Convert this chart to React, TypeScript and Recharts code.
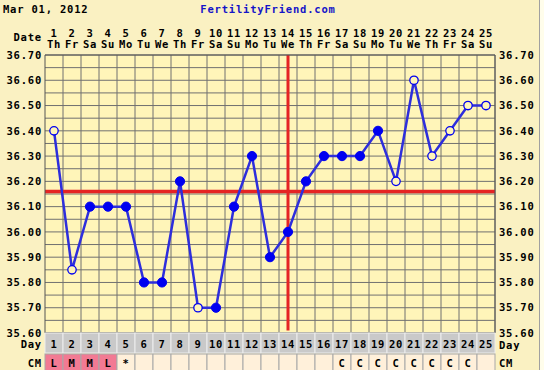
import React from "react";
import {
  ComposedChart,
  Line,
  XAxis,
  YAxis,
  CartesianGrid,
  ReferenceLine,
} from "recharts";

const DAYS = [1, 2, 3, 4, 5, 6, 7, 8, 9, 10, 11, 12, 13, 14, 15, 16, 17, 18, 19, 20, 21, 22, 23, 24, 25];
const WEEKDAYS = ["Th", "Fr", "Sa", "Su", "Mo", "Tu", "We", "Th", "Fr", "Sa", "Su", "Mo", "Tu", "We", "Th", "Fr", "Sa", "Su", "Mo", "Tu", "We", "Th", "Fr", "Sa", "Su"];
const TEMPS = [36.4, 35.85, 36.1, 36.1, 36.1, 35.8, 35.8, 36.2, 35.7, 35.7, 36.1, 36.3, 35.9, 36.0, 36.2, 36.3, 36.3, 36.3, 36.4, 36.2, 36.6, 36.3, 36.4, 36.5, 36.5];
// open circle = temp discarded / not used
const OPEN = [true, true, false, false, false, false, false, false, true, false, false, false, false, false, false, false, false, false, false, true, true, true, true, true, true];
const CM = ["L", "M", "M", "L", "*", "", "", "", "", "", "", "", "", "", "", "", "C", "C", "C", "C", "C", "C", "C", "C", ""];
const MENSES = [true, true, true, true, false, false, false, false, false, false, false, false, false, false, false, false, false, false, false, false, false, false, false, false, false];
const Y_TICKS = [35.6, 35.65, 35.7, 35.75, 35.8, 35.85, 35.9, 35.95, 36.0, 36.05, 36.1, 36.15, 36.2, 36.25, 36.3, 36.35, 36.4, 36.45, 36.5, 36.55, 36.6, 36.65, 36.7];
const COVERLINE = 36.16;
const OVULATION_DAY = 14;

const W = 544;
const H = 370;
const OUTER_BG = "#FAF1C2";
const PLOT_BG = "#FFF5B9";
const BLUE = "#0000F0";
const LINE_BLUE = "#2E2EDC";
const RED = "#E52424";

const font = {
  fontFamily: "'DejaVu Sans Mono', monospace",
  fontWeight: 700,
  fontSize: 10.5,
  letterSpacing: 0.8,
  fill: "#000",
};

const data = DAYS.map((d, i) => ({ day: d, temp: TEMPS[i], open: OPEN[i] }));

const fmtTemp = (v: number) => (Math.round(v * 100) % 10 === 0 ? v.toFixed(2) : "");

const TopTick = ({ x, y, payload }: any) => {
  const i = payload.value - 1;
  return (
    <g>
      <text x={x} y={y - 18} textAnchor="middle" {...font}>{DAYS[i]}</text>
      <text x={x} y={y - 7} textAnchor="middle" {...font}>{WEEKDAYS[i]}</text>
    </g>
  );
};

const BottomTick = ({ x, y, payload }: any) => {
  const i = payload.value - 1;
  const cw = 18;
  return (
    <g>
      <rect x={x - cw / 2} y={y} width={cw} height={20} fill="#C9C9C9" stroke="#EDEDED" strokeWidth={1} />
      <text x={x} y={y + 15} textAnchor="middle" {...font}>{DAYS[i]}</text>
      <rect x={x - cw / 2} y={y + 21} width={cw} height={17} fill={MENSES[i] ? "#F27A93" : "#FFF0DA"} stroke="#A8A8A8" strokeWidth={1} />
      <text x={x} y={y + 33.5} textAnchor="middle" {...font}>{CM[i]}</text>
    </g>
  );
};

const Marker = (props: any) => {
  const { cx, cy, payload, index } = props;
  if (cx == null || cy == null) return <g key={index} />;
  return payload.open ? (
    <circle key={index} cx={cx} cy={cy} r={4.2} fill={PLOT_BG} stroke={BLUE} strokeWidth={1.3} />
  ) : (
    <circle key={index} cx={cx} cy={cy} r={4.6} fill={BLUE} stroke={BLUE} strokeWidth={1} />
  );
};

export default function App() {
  return (
    <div style={{ position: "absolute", left: 0, top: 0, width: W, height: H, background: OUTER_BG, overflow: "hidden" }}>
      <ComposedChart width={W} height={H} data={data} margin={{ top: 15, right: 0, bottom: 0, left: 0 }}>
        <CartesianGrid
          xAxisId="bottom"
          yAxisId="left"
          fill={PLOT_BG}
          fillOpacity={1}
          stroke="#707070"
          strokeWidth={1}
          verticalCoordinatesGenerator={({ offset }: any) =>
            DAYS.map((_, i) => offset.left + ((i + 1) * offset.width) / DAYS.length)
          }
        />
        <XAxis
          xAxisId="top"
          orientation="top"
          type="number"
          dataKey="day"
          domain={[0.5, 25.5]}
          ticks={DAYS}
          interval={0}
          height={40}
          tickSize={0}
          tickMargin={0}
          tickLine={false}
          axisLine={{ stroke: "#555" }}
          tick={<TopTick />}
        />
        <XAxis
          xAxisId="bottom"
          orientation="bottom"
          type="number"
          dataKey="day"
          domain={[0.5, 25.5]}
          ticks={DAYS}
          interval={0}
          height={37}
          tickSize={0}
          tickMargin={0}
          tickLine={false}
          axisLine={{ stroke: "#555" }}
          tick={<BottomTick />}
        />
        <YAxis
          yAxisId="left"
          type="number"
          domain={[35.6, 36.7]}
          ticks={Y_TICKS}
          interval={0}
          width={45}
          tickSize={0}
          tickMargin={3}
          tickLine={false}
          axisLine={{ stroke: "#555" }}
          tickFormatter={fmtTemp}
          tick={font}
        />
        <YAxis
          yAxisId="right"
          orientation="right"
          type="number"
          domain={[35.6, 36.7]}
          ticks={Y_TICKS}
          interval={0}
          width={49}
          tickSize={0}
          tickMargin={4}
          tickLine={false}
          axisLine={{ stroke: "#555" }}
          tickFormatter={fmtTemp}
          tick={font}
        />
        <ReferenceLine xAxisId="bottom" yAxisId="left" y={COVERLINE} stroke={RED} strokeWidth={3.5} />
        <ReferenceLine
          xAxisId="bottom"
          yAxisId="left"
          segment={[{ x: OVULATION_DAY, y: 36.7 }, { x: OVULATION_DAY, y: 35.61 }]}
          stroke={RED}
          strokeWidth={3}
        />
        <Line
          xAxisId="bottom"
          yAxisId="left"
          dataKey="temp"
          stroke={LINE_BLUE}
          strokeWidth={2.5}
          dot={Marker}
          activeDot={false}
          isAnimationActive={false}
        />
        <Line
          xAxisId="top"
          yAxisId="right"
          dataKey="temp"
          stroke="none"
          dot={false}
          activeDot={false}
          isAnimationActive={false}
        />
      </ComposedChart>
      <svg width={W} height={H} style={{ position: "absolute", left: 0, top: 0, pointerEvents: "none" }}>
        <text x={3} y={12.5} {...font}>Mar 01, 2012</text>
        <text x={268} y={12.5} textAnchor="middle" {...font} fill="#1414C8">FertilityFriend.com</text>
        <text x={42} y={41} textAnchor="end" {...font}>Date</text>
        <text x={42} y={348} textAnchor="end" {...font}>Day</text>
        <text x={42} y={367} textAnchor="end" {...font}>CM</text>
        <text x={499} y={348.5} {...font}>Day</text>
        <text x={499} y={367} {...font}>CM</text>
        <line x1={539.5} y1={0} x2={539.5} y2={H} stroke="#A0A0A0" />
        <rect x={540} y={0} width={4} height={H} fill="#FFFDEB" />
      </svg>
    </div>
  );
}
